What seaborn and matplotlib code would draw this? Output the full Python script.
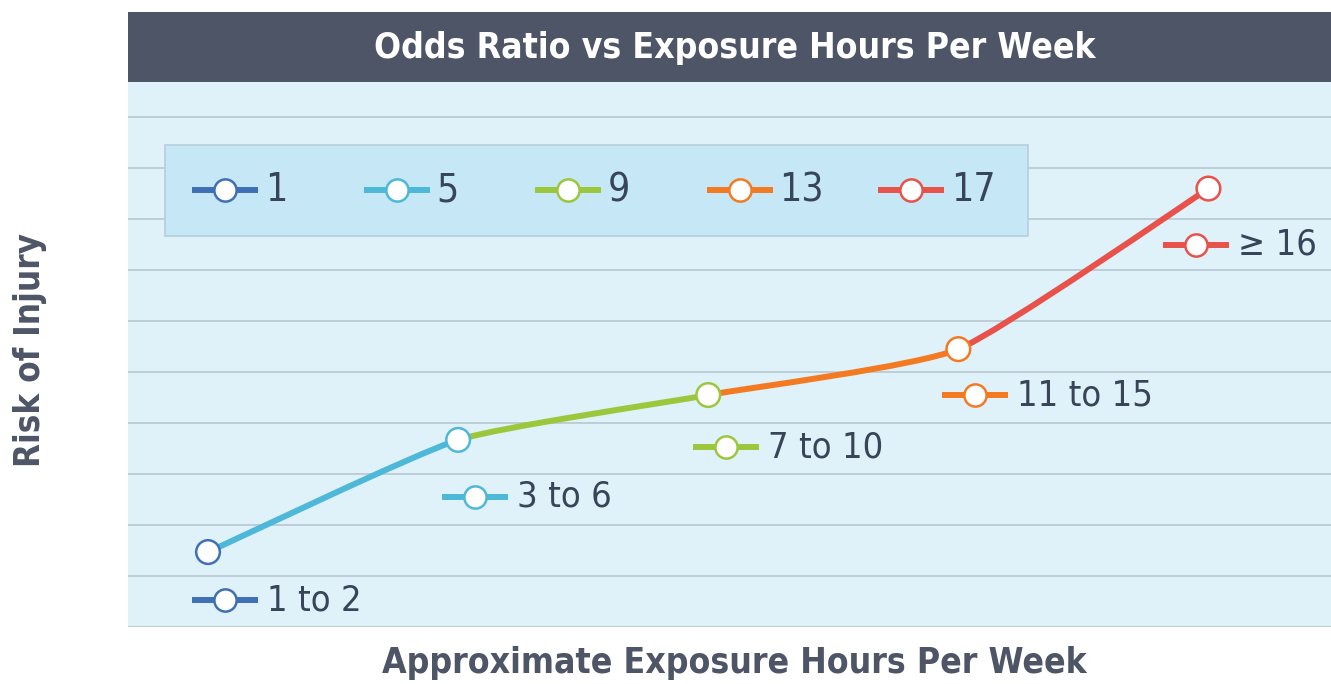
import matplotlib
matplotlib.use('Agg')
import matplotlib.pyplot as plt
import seaborn as sns
import pandas as pd
from matplotlib.path import Path
from matplotlib.patches import PathPatch, Rectangle

# data
hours = ['1 to 2', '3 to 6', '7 to 10', '11 to 15', '≥ 16']
risk = [1.47, 3.67, 4.55, 5.45, 8.6]
legend_labels = ['1', '5', '9', '13', '17']
colors = ['#3f70b5', '#4db8d8', '#9bc73c', '#f47a22', '#e8524a']

# label placement (pixel offsets from each point)
label_offsets = [(17, 48), (17, 57), (18, 52), (17, 46), (-12, 56)]

TEXT = '#384558'
sns.set_style('white')
plt.rcParams['font.family'] = ['DejaVu Sans']

df = pd.DataFrame({'x': range(len(hours)), 'risk': risk, 'group': hours})

fig = plt.figure(figsize=(13.31, 6.84), dpi=100)
ax = fig.add_axes([128 / 1331, 1 - 627 / 684, 1203 / 1331, 545 / 684])
ax.set_facecolor('#dff1f9')
ax.set_xlim(-0.32, 4.49)
ax.set_ylim(0, 10.69)
ax.set_yticks(range(0, 11))
ax.set_xticks([])
ax.set_yticklabels([])
ax.grid(axis='y', color='#bccbd3', lw=1.3)
ax.set_axisbelow(True)
for s in ax.spines.values():
    s.set_visible(False)

px_x = 1203 / (4.49 + 0.32)
px_y = 545 / 10.69

# smoothed segments (catmull-rom style, low tension)
k = 1 / 12
pts = list(zip(df['x'], df['risk']))
n = len(pts)
for i in range(n - 1):
    p0 = pts[max(i - 1, 0)]
    p1 = pts[i]
    p2 = pts[i + 1]
    p3 = pts[min(i + 2, n - 1)]
    c1 = (p1[0] + (p2[0] - p0[0]) * k, p1[1] + (p2[1] - p0[1]) * k)
    c2 = (p2[0] - (p3[0] - p1[0]) * k, p2[1] - (p3[1] - p1[1]) * k)
    path = Path([p1, c1, c2, p2], [Path.MOVETO, Path.CURVE4, Path.CURVE4, Path.CURVE4])
    ax.add_patch(PathPatch(path, fill=False, edgecolor=colors[i + 1], lw=4.3,
                           capstyle='round', zorder=3))

sns.scatterplot(data=df, x='x', y='risk', hue='group', palette=colors, s=290,
                linewidth=1.8, legend=False, zorder=4, ax=ax)
# white face, coloured edge
ax.collections[-1].set_facecolor('white')
ax.collections[-1].set_edgecolor(colors)
ax.set_xlabel('')
ax.set_ylabel('')


def icon(x, y, color):
    hw = 33 / px_x
    ax.plot([x - hw, x + hw], [y, y], color=color, lw=4.3, solid_capstyle='butt', zorder=5)
    ax.plot(x, y, 'o', ms=16, mfc='white', mec=color, mew=1.8, zorder=6)


# point labels
for i, lab in enumerate(hours):
    dx, dy = label_offsets[i]
    x = df['x'][i] + dx / px_x
    y = df['risk'][i] - dy / px_y
    icon(x, y, colors[i])
    ax.text(x + 42 / px_x, y, lab, color=TEXT, fontsize=26, fontstretch='condensed',
            va='center', ha='left', zorder=6)

# legend box
ax.add_patch(Rectangle((37 / 1203, 1 - (236 - 82) / 545), 863 / 1203, 91 / 545,
                       transform=ax.transAxes, facecolor='#c6e7f6',
                       edgecolor='#b5cfdc', lw=1.2, zorder=1))
leg_y = (627 - 190) / px_y
for i, lab in enumerate(legend_labels):
    lx = (225 + 171.5 * i - 208) / px_x
    icon(lx, leg_y, colors[i])
    ax.text(lx + 40 / px_x, leg_y, lab, color=TEXT, fontsize=28, fontstretch='condensed',
            va='center', ha='left', zorder=6)

# title bar
fig.patches.append(Rectangle((128 / 1331, 1 - 82 / 684), 1203 / 1331, 70 / 684,
                             transform=fig.transFigure, facecolor='#4d5566',
                             edgecolor='none'))
fig.text(0.552, 1 - 48 / 684, 'Odds Ratio vs Exposure Hours Per Week', color='white',
         fontsize=25.5, fontweight='bold', fontstretch='condensed', ha='center', va='center')

fig.text(0.552, 1 - 663 / 684, 'Approximate Exposure Hours Per Week', color='#4d5566',
         fontsize=25.5, fontweight='bold', fontstretch='condensed', ha='center', va='center')
fig.text(0.0225, 1 - 350 / 684, 'Risk of Injury', color='#4d5566', rotation=90,
         fontsize=25, fontweight='bold', fontstretch='condensed', ha='center', va='center')

fig.savefig('out.png', dpi=100)
